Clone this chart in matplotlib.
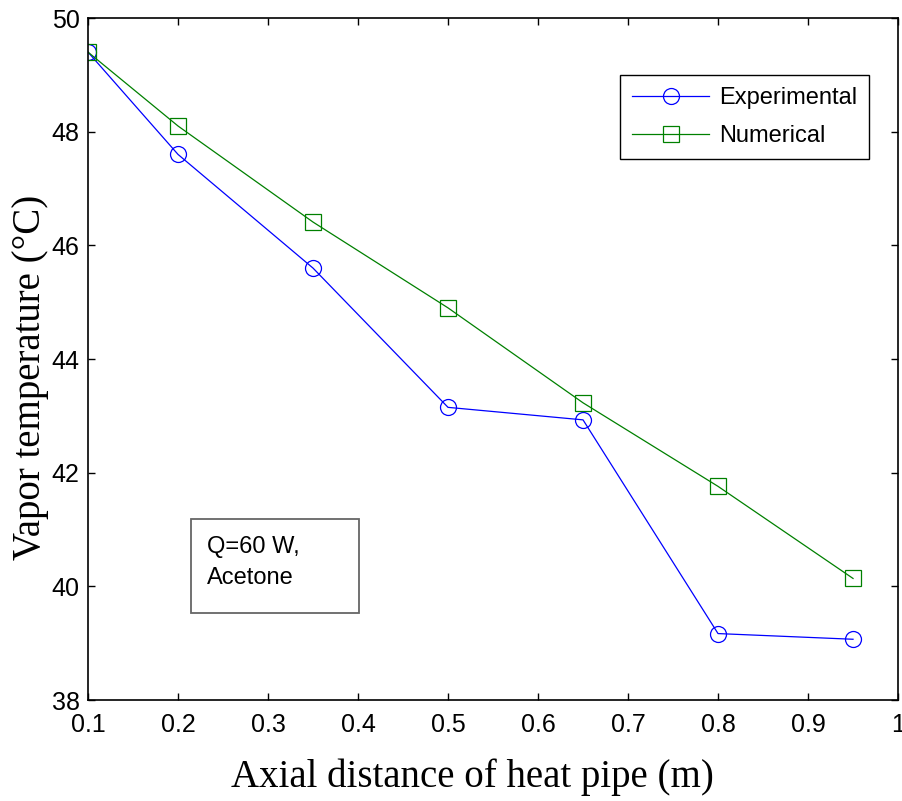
import matplotlib
matplotlib.use("Agg")
import matplotlib.pyplot as plt
from matplotlib.patches import Rectangle

# axial positions (m) and vapor temperatures (deg C)
x_pos = [0.1, 0.2, 0.35, 0.5, 0.65, 0.8, 0.95]
t_exp = [49.4, 47.6, 45.6, 43.15, 42.93, 39.17, 39.07]
t_num = [49.4, 48.1, 46.41, 44.9, 43.23, 41.76, 40.14]

x_ticks = [0.1, 0.2, 0.3, 0.4, 0.5, 0.6, 0.7, 0.8, 0.9, 1.0]
x_tick_labels = ["0.1", "0.2", "0.3", "0.4", "0.5", "0.6", "0.7", "0.8", "0.9", "1"]
y_ticks = [38, 40, 42, 44, 46, 48, 50]

fig = plt.figure(figsize=(9.02, 8.01), dpi=100)
ax = fig.add_axes([0.0976, 0.126, 0.898, 0.8515])

ax.plot(x_pos, t_exp, color=(0, 0, 1), lw=0.9, marker="o", ms=11.5,
        mfc="none", mew=0.9, label="Experimental")
ax.plot(x_pos, t_num, color=(0, 0.5, 0), lw=0.9, marker="s", ms=11.5,
        mfc="none", mew=0.9, label="Numerical")

ax.set_xlim(0.1, 1.0)
ax.set_ylim(38, 50)
ax.set_xticks(x_ticks)
ax.set_xticklabels(x_tick_labels)
ax.set_yticks(y_ticks)
ax.tick_params(direction="in", length=5, width=1, top=True, right=True,
               labelsize=18, pad=6)
ax.tick_params(axis="x", pad=9)
for lab in ax.get_xticklabels() + ax.get_yticklabels():
    lab.set_fontfamily("Liberation Sans")
for s in ax.spines.values():
    s.set_linewidth(1.2)

ax.set_xlabel("Axial distance of heat pipe (m)", fontfamily="Liberation Serif",
              fontsize=28, labelpad=16)
ax.xaxis.label.set_x(0.475)
ax.set_ylabel("Vapor temperature (\u00b0C)", fontfamily="Liberation Serif",
              fontsize=28, labelpad=2)
ax.yaxis.label.set_y(0.4736)

leg = ax.legend(loc="upper right", bbox_to_anchor=(0.964, 0.916),
                prop={"family": "Liberation Sans", "size": 17},
                fancybox=False, framealpha=1, edgecolor="black",
                handlelength=3.3, handletextpad=0.4, borderpad=0.5,
                labelspacing=0.67, borderaxespad=0)
leg.get_frame().set_linewidth(1.0)

# annotation box (MATLAB style fixed-size text box)
ax.add_patch(Rectangle((0.127, 0.1276), 0.208, 0.1374, transform=ax.transAxes,
                       fc="white", ec="#666666", lw=1.3, zorder=4))
ax.text(0.147, 0.24, "Q=60 W,\nAcetone", transform=ax.transAxes,
        fontfamily="Liberation Sans", fontsize=17, va="top", ha="left",
        linespacing=1.5, zorder=5)

fig.savefig("out.png", dpi=100)
